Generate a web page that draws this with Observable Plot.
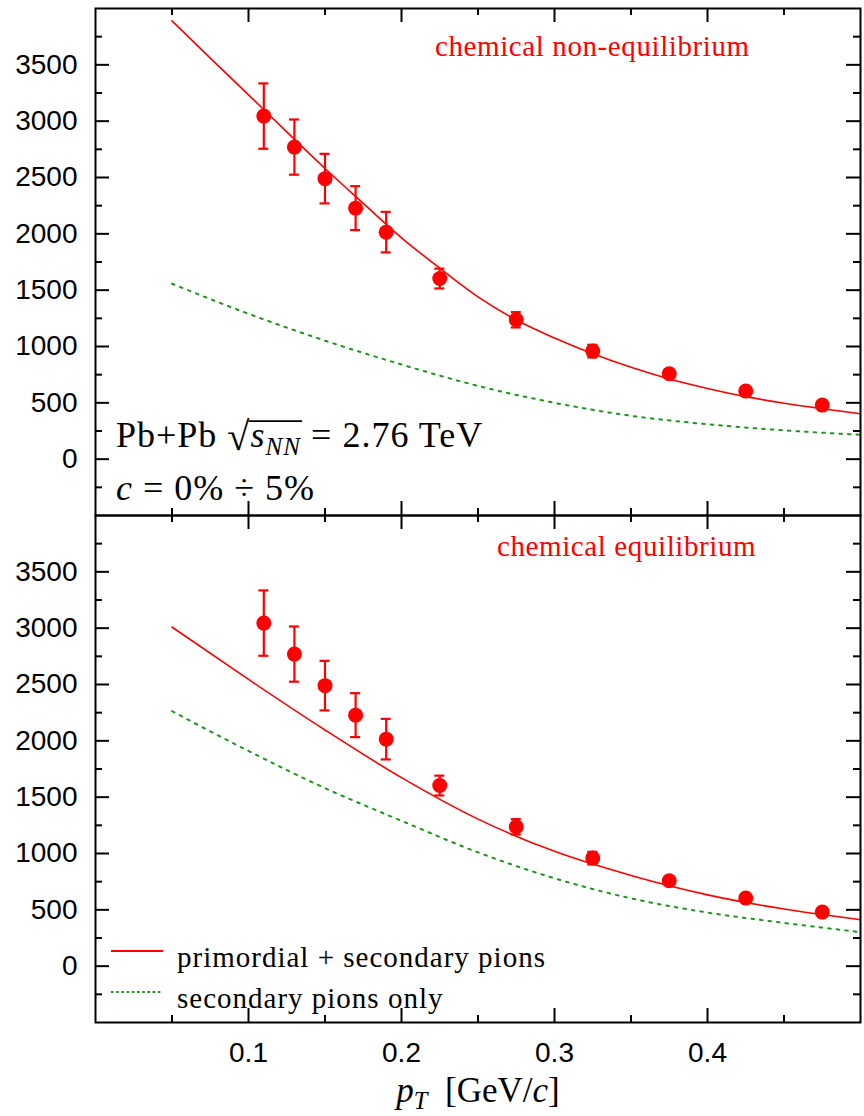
<!DOCTYPE html>
<html><head><meta charset="utf-8">
<script src="https://cdn.jsdelivr.net/npm/d3@7"></script>
<script src="https://cdn.jsdelivr.net/npm/@observablehq/plot@0.6"></script>
<style>
body{margin:0;background:#fff;}
#wrap{position:relative;width:864px;height:1116px;overflow:hidden;}
#wrap svg{position:absolute;left:0;}
</style></head><body><div id="wrap"></div>
<script>
// ---- data ----
const ptData    = [0.11, 0.13, 0.15, 0.17, 0.19, 0.225, 0.275, 0.325, 0.375, 0.425, 0.475];
const yieldData = [3045, 2770, 2490, 2228, 2015, 1603, 1237, 959, 758, 604, 480];
const errData   = [290, 245, 220, 195, 180, 88, 68, 56, 35, 25, 20];

const fineX  = [0.05,0.075,0.1,0.125,0.15,0.175,0.2,0.225,0.25,0.275,0.3,0.325,0.35,0.375,0.4,0.425,0.45,0.475,0.5];
const coarseX = [0.05,0.1,0.15,0.2,0.25,0.3,0.35,0.4,0.45,0.5];

// chemical non-equilibrium (top)
const topRed   = [3890,3560,3234,2905,2580,2270,1965,1695,1440,1235,1075,935,815,712,628,555,497,448,403];
const topGreen = [1557,1290,1052,840,650,500,385,310,256,216];
// chemical equilibrium (bottom)
const botRed   = [3009,2545,2096,1673,1305,1019,805,633,507,412];
const botGreen = [2263,1910,1580,1290,1010,780,602,476,384,302];

const yLabelTicks = [0,500,1000,1500,2000,2500,3000,3500];
const yMinorTicks = [-250,250,750,1250,1750,2250,2750,3250,3750];
const xLabelTicks = [0.1,0.2,0.3,0.4];
const xMinorTicks = [0.05,0.15,0.25,0.35,0.45];

const RED = "#ff0000", GREEN = "#1e961e";
const SERIF = "'Liberation Serif','Times New Roman',serif";
const SANS = "'Liberation Sans',Arial,sans-serif";
const INNER_W = 765, INNER_H = 507, MAJ = 14, MIN = 7;

function panel(redX, redY, greenX, greenY, opts) {
  const pts = ptData.map((x,i)=>({x, y: yieldData[i], e: errData[i]}));
  const red = redX.map((x,i)=>({x, y: redY[i]}));
  const green = greenX.map((x,i)=>({x, y: greenY[i]}));
  const tk = {stroke: "black", strokeWidth: 2};
  const marks = [
    Plot.line(green, {x:"x", y:"y", stroke: GREEN, strokeWidth: 2, strokeDasharray: "2.6,6", curve: "monotone-x"}),
    Plot.line(red, {x:"x", y:"y", stroke: RED, strokeWidth: 1.6, curve: "monotone-x"}),
    Plot.ruleX(pts, {x:"x", y1: d=>d.y-d.e, y2: d=>d.y+d.e, stroke: RED, strokeWidth: 2.2}),
    Plot.ruleY(pts, {y: d=>d.y+d.e, x1:"x", x2:"x", insetLeft:-5, insetRight:-5, stroke: RED, strokeWidth: 2.2}),
    Plot.ruleY(pts, {y: d=>d.y-d.e, x1:"x", x2:"x", insetLeft:-5, insetRight:-5, stroke: RED, strokeWidth: 2.2}),
    Plot.dot(pts, {x:"x", y:"y", r: 7.5, fill: RED}),
    Plot.ruleX(xLabelTicks, {x: d=>d, insetTop: INNER_H-MAJ, ...tk}),
    Plot.ruleX(xLabelTicks, {x: d=>d, insetBottom: INNER_H-MAJ, ...tk}),
    Plot.ruleX(xMinorTicks, {x: d=>d, insetTop: INNER_H-MIN, ...tk}),
    Plot.ruleX(xMinorTicks, {x: d=>d, insetBottom: INNER_H-MIN, ...tk}),
    Plot.ruleY(yLabelTicks, {y: d=>d, insetRight: INNER_W-MAJ, ...tk}),
    Plot.ruleY(yLabelTicks, {y: d=>d, insetLeft: INNER_W-MAJ, ...tk}),
    Plot.ruleY(yMinorTicks, {y: d=>d, insetRight: INNER_W-MIN, ...tk}),
    Plot.ruleY(yMinorTicks, {y: d=>d, insetLeft: INNER_W-MIN, ...tk}),
    Plot.frame({stroke: "black", strokeWidth: 2}),
    Plot.axisY({ticks: yLabelTicks, tickSize: 0, tickPadding: 18, tickFormat: d=>String(d), label: null, fontSize: 28, fill: "black"})
  ];
  if (opts.xAxis) {
    marks.push(Plot.axisX({ticks: xLabelTicks, tickSize: 0, tickPadding: 20, tickFormat: d=>d.toFixed(1), label: null, fontSize: 28, fill: "black"}));
  } else {
    marks.push(Plot.axisX({ticks: [], label: null}));
  }
  return Plot.plot({
    width: 864, height: opts.height,
    marginLeft: 95, marginRight: 4, marginTop: opts.marginTop, marginBottom: opts.marginBottom,
    style: {fontFamily: SANS, fontSize: "28px", color: "black", background: "transparent", overflow: "visible"},
    x: {domain: [0, 0.5]},
    y: {domain: [-500, 4000]},
    marks
  });
}

function richText(svg, x, y, parts, size, fill, anchor, extra) {
  const g = d3.select(svg).append("g").attr("fill", fill).attr("font-family", SERIF)
    .attr("text-anchor", "start").style("text-anchor", "start");
  let cx = 0;
  const spans = [];
  for (const p of parts) {
    const fs = size * (p.scale || 1);
    cx += (p.kern || 0) * size;
    const t = g.append("text").attr("x", cx).attr("y", (p.dy || 0) * size)
      .attr("text-anchor", "start")
      .attr("font-size", fs).attr("font-style", p.italic ? "italic" : null)
      .style("white-space", "pre").text(p.t);
    if (extra && extra.ls) t.attr("letter-spacing", extra.ls);
    const w = t.node().getComputedTextLength();
    spans.push({x0: cx, x1: cx + w, p});
    cx += w;
  }
  const total = cx;
  const ox = anchor === "middle" ? x - total/2 : x;
  g.attr("transform", `translate(${ox},${y})`);
  return {g, spans, total};
}

(function draw() {
  const wrap = document.getElementById("wrap");
  const topSvg = panel(fineX, topRed, coarseX, topGreen, {height: 517, marginTop: 8, marginBottom: 2, xAxis: false});
  topSvg.style.top = "0px";
  wrap.appendChild(topSvg);
  const botSvg = panel(coarseX, botRed, coarseX, botGreen, {height: 603, marginTop: 2, marginBottom: 94, xAxis: true});
  botSvg.style.top = "513px";
  wrap.appendChild(botSvg);

  richText(topSvg, 435, 56, [{t: "chemical non-equilibrium"}], 29, RED, "start", {ls: 0.6});
  const pb = richText(topSvg, 116, 447, [
    {t: "Pb+Pb "},
    {t: "\u221A", scale: 1.12, dy: 0.08},
    {t: "s", italic: true},
    {t: "NN", italic: true, scale: 0.7, dy: 0.22},
    {t: " = 2.76 TeV"}
  ], 36, "black", "start", {ls: 1});
  const r = pb.spans[1], nn = pb.spans[3];
  pb.g.append("line").attr("x1", r.x1 - 2).attr("x2", nn.x1 + 1)
    .attr("y1", -0.72*36).attr("y2", -0.72*36).attr("stroke", "black").attr("stroke-width", 1.6);
  richText(topSvg, 116, 500, [
    {t: "c", italic: true},
    {t: " = 0% \u00F7 5%"}
  ], 36, "black", "start", {ls: 1});

  const off = 513;
  richText(botSvg, 497, 556 - off, [{t: "chemical equilibrium"}], 29, RED, "start", {ls: 0.6});
  const lg = d3.select(botSvg).append("g");
  lg.append("line").attr("x1", 111).attr("x2", 163).attr("y1", 951-off).attr("y2", 951-off)
    .attr("stroke", RED).attr("stroke-width", 2);
  lg.append("line").attr("x1", 111).attr("x2", 163).attr("y1", 992-off).attr("y2", 992-off)
    .attr("stroke", GREEN).attr("stroke-width", 2).attr("stroke-dasharray", "2.6,2.6");
  richText(botSvg, 177, 967-off, [{t: "primordial + secondary pions"}], 29, "black", "start", {ls: 1.0});
  richText(botSvg, 177, 1008-off, [{t: "secondary pions only"}], 29, "black", "start", {ls: 1.0});

  richText(botSvg, 478, 1102-off, [
    {t: "p", italic: true},
    {t: "T", italic: true, scale: 0.7, dy: 0.2},
    {t: "  [GeV/"},
    {t: "c", italic: true},
    {t: "]"}
  ], 35, "black", "middle");
})();
</script>
</body></html>
